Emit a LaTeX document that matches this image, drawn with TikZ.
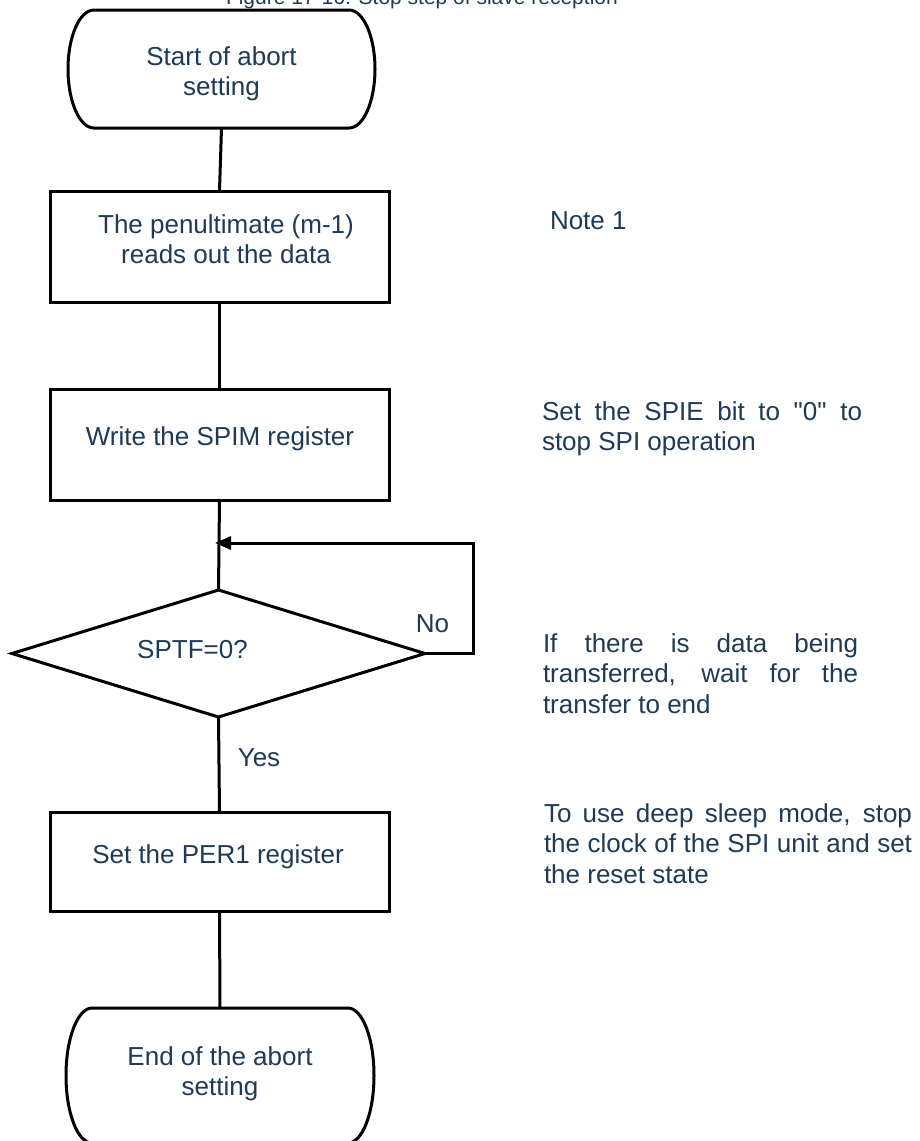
\documentclass[tikz,border=0pt]{standalone}
\usepackage{fontspec}
\setmainfont{Liberation Sans}
\usetikzlibrary{shapes.geometric,arrows.meta}
\definecolor{txt}{HTML}{1F3A56}
\newcommand{\fstrut}{\rule{0pt}{20pt}}
\newcommand{\sq}{\XeTeXglyph\XeTeXcharglyph"22\relax}
\begin{document}
\begin{tikzpicture}[x=1pt,y=1pt,
  every node/.style={font=\fontsize{26}{30.5}\selectfont, text=txt, inner sep=0pt, outer sep=0pt},
  conn/.style={draw=black, line width=3pt},
  procbox/.style={draw=black, line width=3pt, rectangle, minimum width=339pt, minimum height=111pt},
  termbox/.style={rectangle, draw=none, minimum width=307pt, minimum height=118pt},
  decision/.style={draw=black, line width=3pt, diamond, minimum width=413pt, minimum height=127pt},
  intext/.style={align=center},
  note/.style={align=left, anchor=north west}]
\useasboundingbox (0,0) rectangle (919,-1141);
\fill[white] (0,0) rectangle (919,-1141);

% title (cut off at the top, as in the reference)
\node[font=\fontsize{21}{25}\selectfont, anchor=base west] (title) at (226,-4.5) {Figure 17-16: Stop step of slave reception};

% shapes
\node[termbox] (start) at (221.5,-69) {};
\node[procbox] (p1) at (219.5,-246.5) {};
\node[procbox] (p2) at (219.5,-444.5) {};
\node[decision] (dec) at (218.5,-653.5) {};
\node[procbox, minimum height=99pt] (p3) at (219.5,-861.5) {};
\node[termbox, minimum width=308pt, minimum height=135pt] (stop) at (220,-1075.5) {};

\draw[conn] ([xshift=26pt]start.north west) -- ([xshift=-26pt]start.north east)
  arc[start angle=90,end angle=-90,x radius=26pt,y radius=59pt]
  -- ([xshift=26pt]start.south west)
  arc[start angle=270,end angle=90,x radius=26pt,y radius=59pt] -- cycle;
\draw[conn] ([xshift=26pt]stop.north west) -- ([xshift=-26pt]stop.north east)
  arc[start angle=90,end angle=-90,x radius=26pt,y radius=67.5pt]
  -- ([xshift=26pt]stop.south west)
  arc[start angle=270,end angle=90,x radius=26pt,y radius=67.5pt] -- cycle;

% texts in shapes
\node[intext, anchor=north] (startt) at (221.5,-45) {\fstrut Start of abort\\setting};
\node[intext, anchor=north] (p1t) at (226,-213) {\fstrut The penultimate (m-1)\\reads out the data};
\node[anchor=base] (p2t) at (220,-445) {Write the SPIM register};
\node[anchor=base] (dect) at (192.5,-658) {SPTF=0?};
\node[anchor=base] (p3t) at (218,-863) {Set the PER1 register};
\node[intext, anchor=north] (stopt) at (220,-1045) {\fstrut End of the abort\\setting};

% branch labels
\node[anchor=base] (no) at (432.5,-632) {No};
\node[anchor=base] (yes) at (259,-766) {Yes};

% connectors
\coordinate (lr) at (473,-543);
\coordinate (lp) at (215,-543);
\draw[conn] (start.south) -- (p1.north);
\draw[conn] (p1.south) -- (p2.north);
\draw[conn] (p2.south) -- (dec.north);
\draw[conn] (dec.south) -- (p3.north);
\draw[conn] (p3.south) -- (stop.north);
\draw[conn, -{Triangle[length=16pt,width=13pt]}] (dec.east) -| (lr) -- (lp);

% notes
\node[anchor=base west] (n1) at (550,-229) {Note 1};
\node[note] (n2) at (542,-400) {\fstrut\makebox[320pt][s]{Set the SPIE bit to \sq0\sq{} to}\\stop SPI operation};
\node[note] (n3) at (543,-632) {\fstrut\makebox[315pt][s]{If there is data being}\\\makebox[315pt][s]{transferred, wait for the}\\transfer to end};
\node[note] (n4) at (544,-802) {\fstrut\makebox[368pt][s]{To use deep sleep mode, stop}\\\makebox[368pt][s]{the clock of the SPI unit and set}\\the reset state};
\end{tikzpicture}
\end{document}
